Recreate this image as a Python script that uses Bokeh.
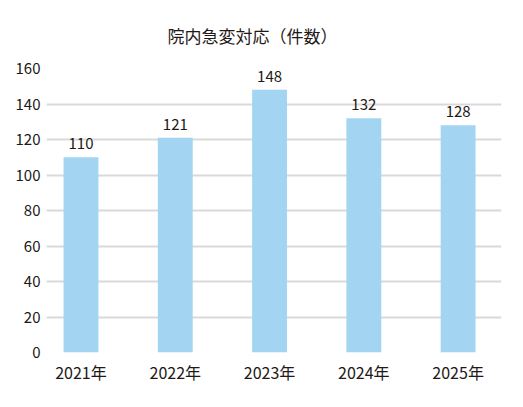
from bokeh.plotting import figure
from bokeh.models import ColumnDataSource, FixedTicker, Range1d
from bokeh.embed import file_html
from bokeh.resources import INLINE

title_text = "院内急変対応（件数）"
categories = ["2021年", "2022年", "2023年", "2024年", "2025年"]
values = [110, 121, 148, 132, 128]
y_ticks = [0, 20, 40, 60, 80, 100, 120, 140, 160]

FONT = "Noto Sans CJK JP"
TXT = "#231815"

xs = list(range(len(categories)))
src = ColumnDataSource(dict(x=xs, top=values, lab=[str(v) for v in values]))

p = figure(width=514, height=400, output_backend="svg", toolbar_location=None,
           x_range=Range1d(-0.366, 4.46), y_range=Range1d(0, 160),
           min_border_left=46, min_border_right=13, min_border_top=64, min_border_bottom=48,
           title=title_text)
p.outline_line_color = None
p.background_fill_color = "white"

p.title.align = "left"
p.title.offset = 121
p.title.standoff = 41
p.title.text_font = FONT
p.title.text_font_size = "17px"
p.title.text_font_style = "normal"
p.title.text_color = TXT

p.vbar(x="x", top="top", width=0.37, source=src, color="#a3d4f2", line_color=None)
p.text(x="x", y="top", text="lab", source=src, text_align="center", text_baseline="bottom",
       y_offset=-8, text_font_size="15px", text_color=TXT, text_font={"value": FONT})

p.xgrid.visible = False
p.ygrid.ticker = FixedTicker(ticks=y_ticks)
p.ygrid.grid_line_color = "#d9d9d9"
p.ygrid.grid_line_width = 2

p.yaxis.ticker = FixedTicker(ticks=y_ticks)
p.xaxis.ticker = FixedTicker(ticks=xs)
p.xaxis.major_label_overrides = {i: c for i, c in enumerate(categories)}
for ax in (p.xaxis[0], p.yaxis[0]):
    ax.axis_line_color = None
    ax.major_tick_line_color = None
    ax.minor_tick_line_color = None
    ax.major_label_text_font = FONT
    ax.major_label_text_color = TXT
p.yaxis.major_label_text_font_size = "15px"
p.xaxis.major_label_text_font_size = "16px"
p.yaxis.major_label_standoff = 0
p.xaxis.major_label_standoff = 1

open("out.html", "w").write(file_html(p, INLINE))
